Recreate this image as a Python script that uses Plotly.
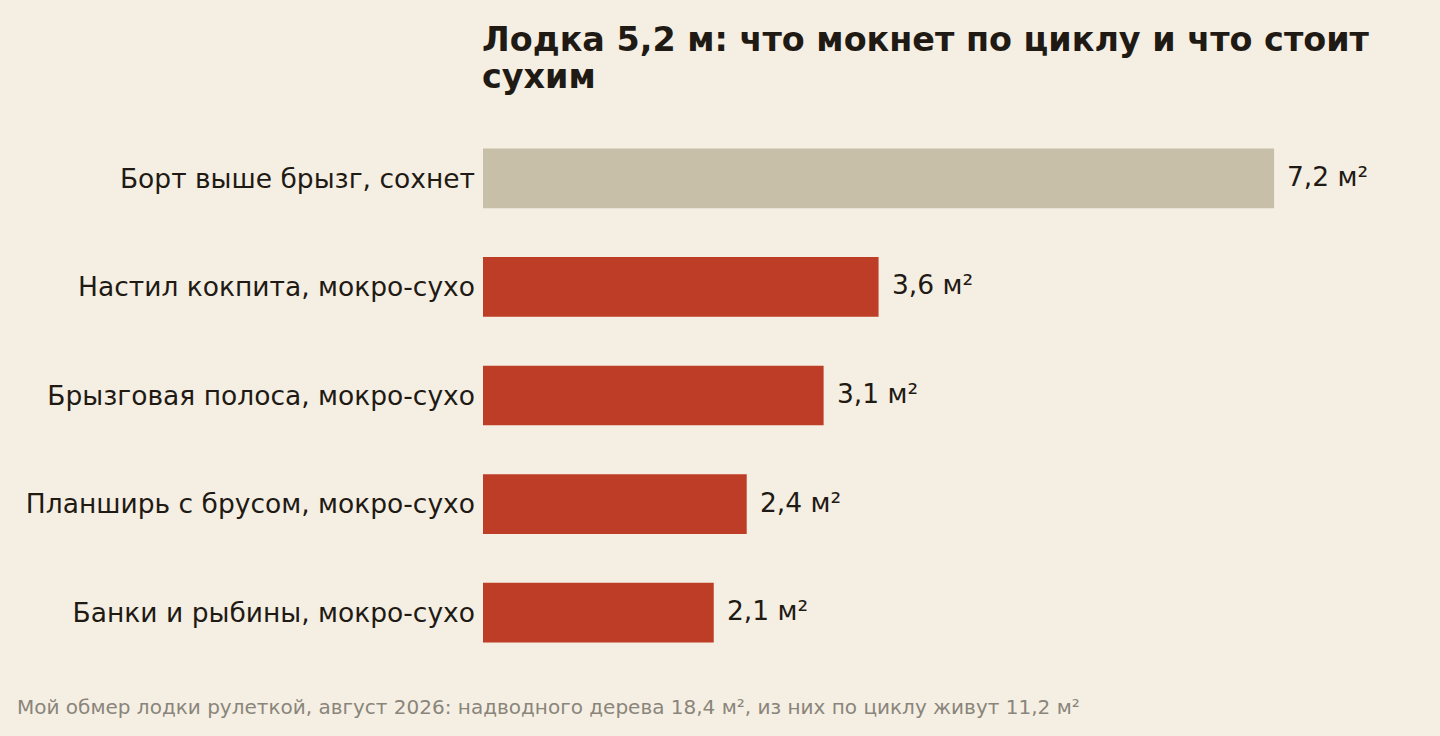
import plotly.graph_objects as go

# data, top to bottom as in the picture
categories = [
    "Борт выше брызг, сохнет",
    "Настил кокпита, мокро-сухо",
    "Брызговая полоса, мокро-сухо",
    "Планширь с брусом, мокро-сухо",
    "Банки и рыбины, мокро-сухо",
]
areas = [7.2, 3.6, 3.1, 2.4, 2.1]
value_labels = ["7,2 м²", "3,6 м²", "3,1 м²", "2,4 м²", "2,1 м²"]
is_wet = [False, True, True, True, True]

title_lines = ["Лодка 5,2 м: что мокнет по циклу и что стоит", "сухим"]
footnote = "Мой обмер лодки рулеткой, август 2026: надводного дерева 18,4 м², из них по циклу живут 11,2 м²"

BG = "#F5EFE3"
INK = "#1F1A14"
RED = "#BD3D27"
TAN = "#C8BFA8"
FONT = "DejaVu Sans"

W, H = 1440, 736
L, R, T, B = 483, 56, 124, 69
PW, PH = W - L - R, H - T - B


def px_x(x):
    return (x - L) / PW


def px_y(y):
    return (H - B - y) / PH


colors = [RED if w else TAN for w in is_wet]

fig = go.Figure(
    go.Bar(
        x=areas,
        y=categories,
        orientation="h",
        marker=dict(color=colors, line=dict(width=0)),
        width=0.55,
        hoverinfo="skip",
    )
)

# value labels just past the bar end
for cat, val, lab in zip(categories, areas, value_labels):
    fig.add_annotation(
        x=val, y=cat, text=lab, showarrow=False,
        xanchor="left", yanchor="middle", xshift=11, yshift=2,
        font=dict(family=FONT, size=26.5, color=INK),
    )

# title, two lines set tighter than plotly's <br> spacing
for line, yc in zip(title_lines, [39.5, 76.5]):
    fig.add_annotation(
        text=f"<b>{line}</b>", xref="paper", yref="paper",
        x=0, y=px_y(yc), xanchor="left", yanchor="middle", showarrow=False,
        xshift=-3,
        font=dict(family=FONT, size=33.4, color=INK),
    )

fig.add_annotation(
    text=footnote, xref="paper", yref="paper",
    x=px_x(15), y=px_y(707), xanchor="left", yanchor="middle", showarrow=False,
    font=dict(family=FONT, size=20, color="#8A857B"),
)

fig.update_layout(
    width=W, height=H,
    paper_bgcolor=BG, plot_bgcolor=BG,
    margin=dict(l=L, r=R, t=T, b=B),
    font=dict(family=FONT, color=INK),
    showlegend=False,
)
fig.update_xaxes(range=[0, 8.2], visible=False, fixedrange=True)
fig.update_yaxes(
    autorange="reversed", showgrid=False, zeroline=False, showline=False,
    ticks="", ticklabelstandoff=7,
    tickfont=dict(family=FONT, size=26.5, color=INK), fixedrange=True,
)

fig.write_html(
    "out.html",
    config={"displayModeBar": False},
    post_script="document.body.style.margin='0';",
)
